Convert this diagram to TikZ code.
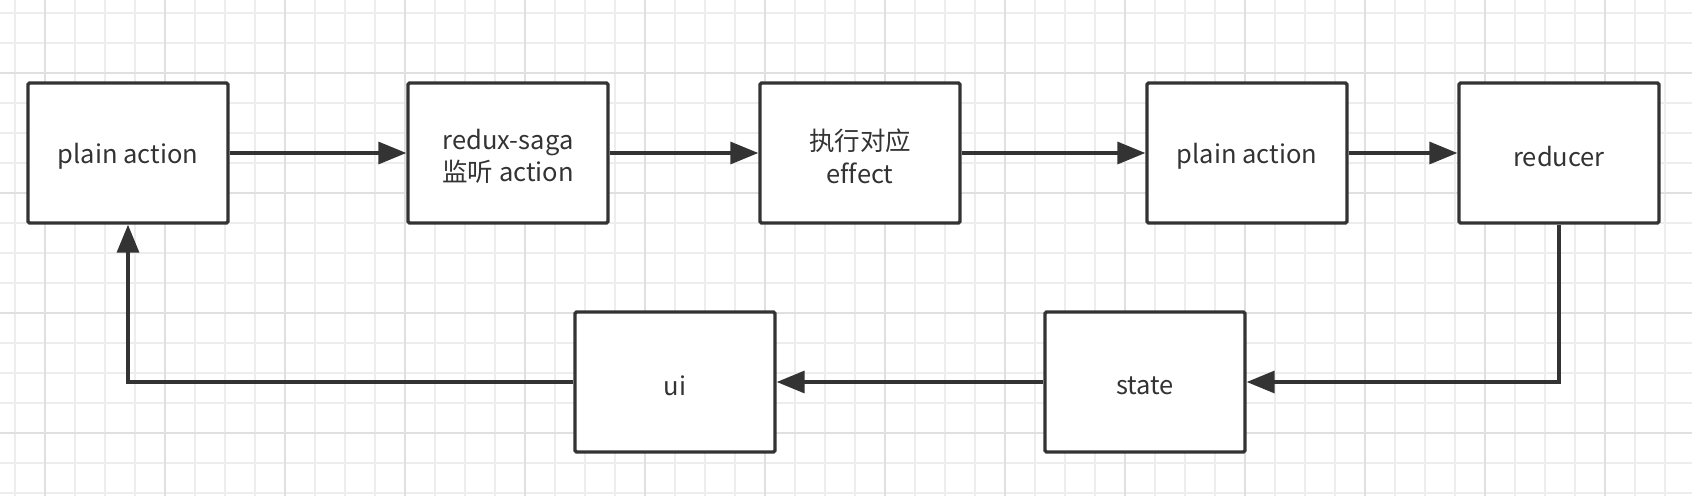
\documentclass[tikz,border=0pt]{standalone}
\usepackage{fontspec}
\setmainfont[Ligatures=NoCommon]{Noto Sans CJK SC}
\usetikzlibrary{arrows.meta}
\definecolor{ink}{HTML}{333333}
\definecolor{gridminor}{HTML}{EDEDED}
\definecolor{gridmajor}{HTML}{E0E0E0}
\begin{document}
\begin{tikzpicture}[x=1pt,y=-1pt,
  box/.style={draw=ink, line width=3.4pt, fill=white, minimum width=200pt, minimum height=140pt,
    rounded corners=1.5pt, inner sep=0pt},
  txt/.style={align=center, text=ink, font=\fontsize{25.5}{32.5}\selectfont, inner sep=0pt, yshift=-3.5pt},
  flow/.style={draw=ink, line width=3.4pt, -{Triangle[length=28pt,width=22pt]}},
  gmin/.style={draw=gridminor, line width=1.3pt},
  gmaj/.style={draw=gridmajor, line width=1.5pt}]
\useasboundingbox (0,0) rectangle (1692,496);
\fill[white] (0,0) rectangle (1692,496);
% grid
\foreach \x in {15,45,...,1690} \draw[gmin] (\x,0) -- (\x,496);
\foreach \y in {13,43,...,495} \draw[gmin] (0,\y) -- (1692,\y);
\foreach \x in {45,165,...,1690} \draw[gmaj] (\x,0) -- (\x,496);
\foreach \y in {73,193,...,495} \draw[gmaj] (0,\y) -- (1692,\y);
% nodes
\node[box, label={[txt]center:plain action}] (pa1) at (128,153) {};
\node[box, label={[txt]center:{redux-saga\\监听 action}}] (saga) at (508,153) {};
\node[box, label={[txt]center:{执行对应\\effect}}] (eff) at (860,153) {};
\node[box, label={[txt]center:plain action}] (pa2) at (1247,153) {};
\node[box, label={[txt]center:reducer}] (red) at (1559,153) {};
\node[box, label={[txt]center:state}] (st) at (1145,382) {};
\node[box, label={[txt]center:ui}] (ui) at (675,382) {};
% connectors
\draw[flow] (pa1.east) -- (saga.west);
\draw[flow] (saga.east) -- (eff.west);
\draw[flow] (eff.east) -- (pa2.west);
\draw[flow] (pa2.east) -- (red.west);
\draw[flow] (red.south) |- (st.east);
\draw[flow] (st.west) -- (ui.east);
\draw[flow] (ui.west) -| (pa1.south);
\end{tikzpicture}
\end{document}
